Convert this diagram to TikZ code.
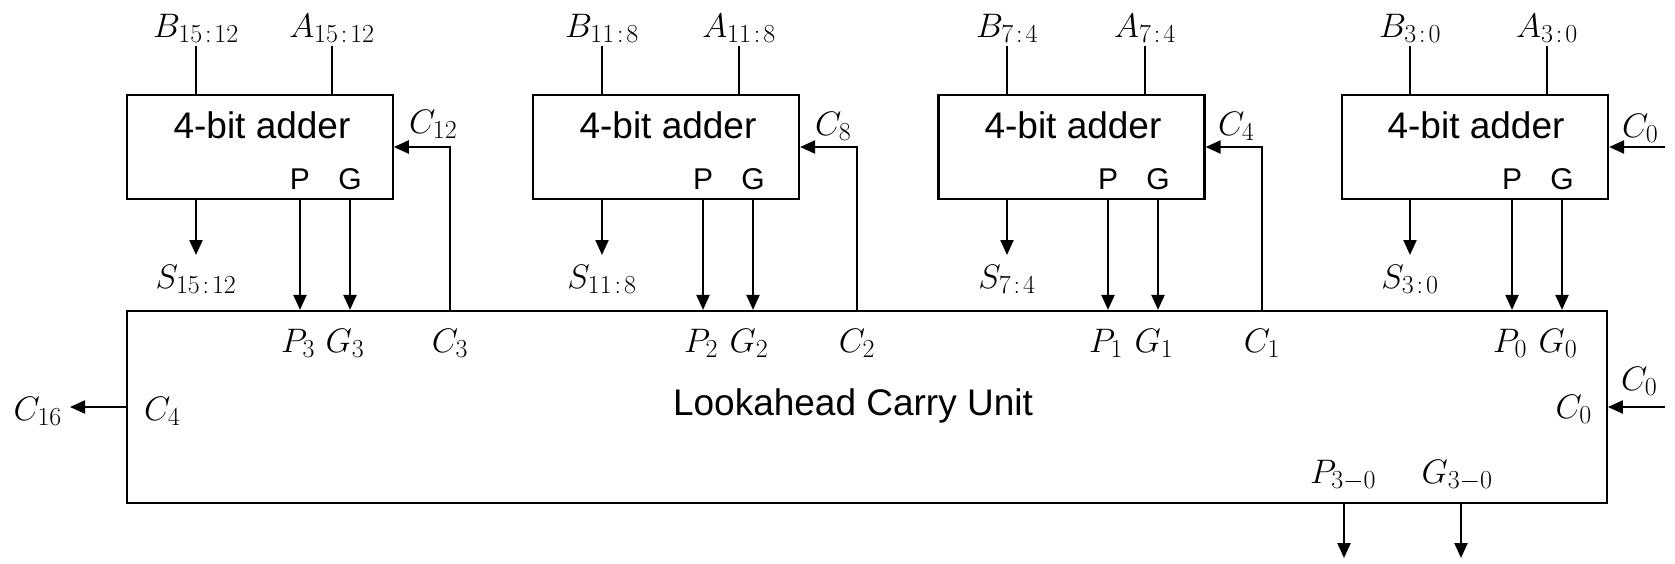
\RequirePackage{fix-cm}
\documentclass[tikz,border=0pt]{standalone}
\usepackage[no-math]{fontspec}
\newfontfamily\arialfont{Liberation Sans}
\usetikzlibrary{arrows.meta}
\DeclareMathSizes{34}{34}{26}{18}
\newcommand\rng[2]{#1\mskip2mu{:}\mskip2mu#2}

\begin{document}
\begin{tikzpicture}[x=1pt,y=-1pt, line width=2.2pt,
  >={Triangle[length=15pt,width=13pt]},
  adder/.style={draw, rectangle, minimum width=266pt, minimum height=104pt, inner sep=0pt},
  pin/.style={inner sep=2pt, font=\fontsize{34}{40}\selectfont},
  txt/.style={inner sep=0pt, font=\arialfont\fontsize{37}{44}\selectfont},
  pg/.style={inner sep=0pt, font=\arialfont\fontsize{30}{36}\selectfont}]
  \useasboundingbox (0,0) rectangle (1675,563);

  % the four adders and the carry unit
  \node[adder] (add3) at (259.7,147) {};
  \node[adder] (add2) at (666,147) {};
  \node[adder] (add1) at (1071.5,147) {};
  \node[adder] (add0) at (1475,147) {};
  \node[draw, inner sep=0pt, minimum width=1480pt, minimum height=192pt] (lcu) at (866.8,407) {};

  \node[txt, anchor=base] (t3) at (262,138) {4-bit adder};
  \node[txt, anchor=base] (t2) at (668,138) {4-bit adder};
  \node[txt, anchor=base] (t1) at (1073,138) {4-bit adder};
  \node[txt, anchor=base] (t0) at (1476,138) {4-bit adder};
  \node[txt, anchor=base] (lcut) at (853,415) {Lookahead Carry Unit};

  \node[pg, anchor=base] (pa3) at (300,189) {P};
  \node[pg, anchor=base] (ga3) at (350,189) {G};
  \node[pg, anchor=base] (pa2) at (703,189) {P};
  \node[pg, anchor=base] (ga2) at (753,189) {G};
  \node[pg, anchor=base] (pa1) at (1108,189) {P};
  \node[pg, anchor=base] (ga1) at (1158,189) {G};
  \node[pg, anchor=base] (pa0) at (1512,189) {P};
  \node[pg, anchor=base] (ga0) at (1562,189) {G};

  % operand inputs
  \node[pin, anchor=south] (b3) at (196,46) {$B_{\rng{15}{12}}$};
  \node[pin, anchor=south] (a3) at (332,46) {$A_{\rng{15}{12}}$};
  \node[pin, anchor=south] (b2) at (602,46) {$B_{\rng{11}{8}}$};
  \node[pin, anchor=south] (a2) at (739,46) {$A_{\rng{11}{8}}$};
  \node[pin, anchor=south] (b1) at (1007,46) {$B_{\rng{7}{4}}$};
  \node[pin, anchor=south] (a1) at (1145,46) {$A_{\rng{7}{4}}$};
  \node[pin, anchor=south] (b0) at (1410,46) {$B_{\rng{3}{0}}$};
  \node[pin, anchor=south] (a0) at (1547,46) {$A_{\rng{3}{0}}$};
  \draw (b3.south) -- (b3 |- add3.north);
  \draw (a3.south) -- (a3 |- add3.north);
  \draw (b2.south) -- (b2 |- add2.north);
  \draw (a2.south) -- (a2 |- add2.north);
  \draw (b1.south) -- (b1 |- add1.north);
  \draw (a1.south) -- (a1 |- add1.north);
  \draw (b0.south) -- (b0 |- add0.north);
  \draw (a0.south) -- (a0 |- add0.north);

  % sums
  \node[pin, inner ysep=9pt, anchor=north] (s3) at (196,255) {$S_{\rng{15}{12}}$};
  \node[pin, inner ysep=9pt, anchor=north] (s2) at (602,255) {$S_{\rng{11}{8}}$};
  \node[pin, inner ysep=9pt, anchor=north] (s1) at (1007,255) {$S_{\rng{7}{4}}$};
  \node[pin, inner ysep=9pt, anchor=north] (s0) at (1410,255) {$S_{\rng{3}{0}}$};
  \draw[->] (s3 |- add3.south) -- (s3.north);
  \draw[->] (s2 |- add2.south) -- (s2.north);
  \draw[->] (s1 |- add1.south) -- (s1.north);
  \draw[->] (s0 |- add0.south) -- (s0.north);

  % ports of the carry unit
  \node[pin, anchor=base] (p3) at (298,352) {$P_3$};
  \node[pin, anchor=base] (g3) at (345,352) {$G_3$};
  \node[pin, anchor=base] (c3) at (450,352) {$C_3$};
  \node[pin, anchor=base] (p2) at (701,352) {$P_2$};
  \node[pin, anchor=base] (g2) at (749,352) {$G_2$};
  \node[pin, anchor=base] (c2) at (857,352) {$C_2$};
  \node[pin, anchor=base] (p1) at (1106,352) {$P_1$};
  \node[pin, anchor=base] (g1) at (1154,352) {$G_1$};
  \node[pin, anchor=base] (c1) at (1262,352) {$C_1$};
  \node[pin, anchor=base] (p0) at (1510,352) {$P_0$};
  \node[pin, anchor=base] (g0) at (1558,352) {$G_0$};

  \draw[->] (pa3 |- add3.south) -- (pa3 |- lcu.north);
  \draw[->] (ga3 |- add3.south) -- (ga3 |- lcu.north);
  \draw[->] (pa2 |- add2.south) -- (pa2 |- lcu.north);
  \draw[->] (ga2 |- add2.south) -- (ga2 |- lcu.north);
  \draw[->] (pa1 |- add1.south) -- (pa1 |- lcu.north);
  \draw[->] (ga1 |- add1.south) -- (ga1 |- lcu.north);
  \draw[->] (pa0 |- add0.south) -- (pa0 |- lcu.north);
  \draw[->] (ga0 |- add0.south) -- (ga0 |- lcu.north);

  % carries back to the adders
  \node[pin, anchor=base west] (c12) at (406,133) {$C_{12}$};
  \node[pin, anchor=base west] (c8) at (812,135) {$C_8$};
  \node[pin, anchor=base west] (c4) at (1215,135) {$C_4$};
  \node[pin, anchor=base west] (c0a) at (1619,137) {$C_0$};
  \draw[->] (c3 |- lcu.north) |- (add3.east);
  \draw[->] (c2 |- lcu.north) |- (add2.east);
  \draw[->] (c1 |- lcu.north) |- (add1.east);
  \coordinate (cin) at (1665,147);
  \draw[->] (cin) -- (add0.east);

  \node[pin, anchor=base west] (c4l) at (141,420) {$C_4$};
  \node[pin, inner xsep=7pt, anchor=base east] (c16) at (70,420) {$C_{16}$};
  \draw[->] (lcu.west) -- (lcu.west -| c16.east);
  \node[pin, anchor=base east] (c0l) at (1595,418) {$C_0$};
  \node[pin, anchor=base west] (c0b) at (1618,390) {$C_0$};
  \coordinate (cin2) at (1665,407);
  \draw[->] (cin2) -- (lcu.east);

  % group outputs
  \node[pin, anchor=base] (p30) at (1343,483) {$P_{3-0}$};
  \node[pin, anchor=base] (g30) at (1457,483) {$G_{3-0}$};
  \coordinate (pout) at (1344,558);
  \coordinate (gout) at (1461,558);
  \draw[->] (pout |- lcu.south) -- (pout);
  \draw[->] (gout |- lcu.south) -- (gout);
\end{tikzpicture}
\end{document}
